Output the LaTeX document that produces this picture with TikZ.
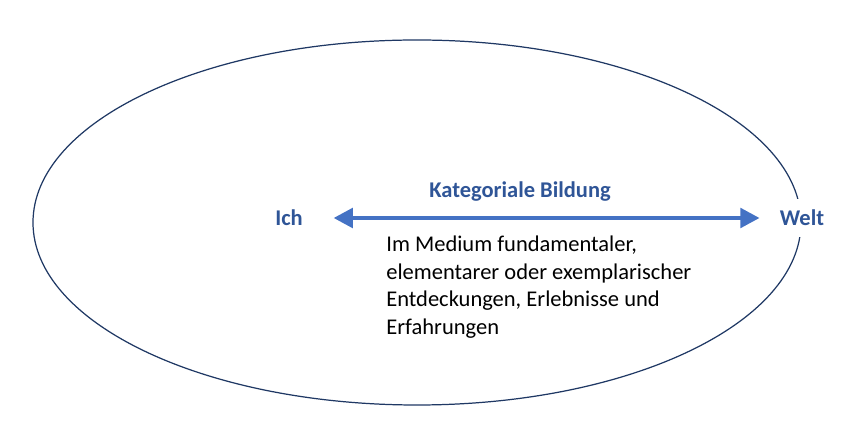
\documentclass[tikz,border=0pt]{standalone}
\usepackage{fontspec}
\setmainfont{Carlito}
\usepackage{xcolor}
\usetikzlibrary{arrows.meta, positioning, calc}

\definecolor{rand}{HTML}{1F3864}
\definecolor{pfeil}{HTML}{4472C4}
\definecolor{titel}{HTML}{2F5597}

\begin{document}
\begin{tikzpicture}[font=\fontsize{12.8}{15.6}\selectfont]
\useasboundingbox (0,0) rectangle (17.24,-8.76);
% Grosse Ellipse
\draw[rand, line width=0.7pt] (8.34,-4.45) ellipse (7.68cm and 3.65cm);

% Pole
\node[font=\fontsize{12.8}{15.6}\selectfont\bfseries, text=titel] (ich) at (5.78,-4.36) {Ich};
\node[font=\fontsize{12.8}{15.6}\selectfont\bfseries, text=titel, fill=white, inner ysep=6pt] (welt) at (16.04,-4.36) {Welt};

% Doppelpfeil
\draw[{Triangle[length=11pt, width=11pt]}-{Triangle[length=11pt, width=11pt]}, pfeil, line width=2.5pt, shorten <=14pt, shorten >=8pt] (ich) -- (welt);
\node[font=\fontsize{12.8}{15.6}\selectfont\bfseries, text=titel] (kb) at (10.40,-3.84) {Kategoriale Bildung};

% Erlaeuterung
\node[anchor=north west, align=left, inner sep=0pt] (medium) at (7.72,-4.72) {Im Medium fundamentaler,\\elementarer oder exemplarischer\\Entdeckungen, Erlebnisse und\\Erfahrungen};
\end{tikzpicture}
\end{document}
